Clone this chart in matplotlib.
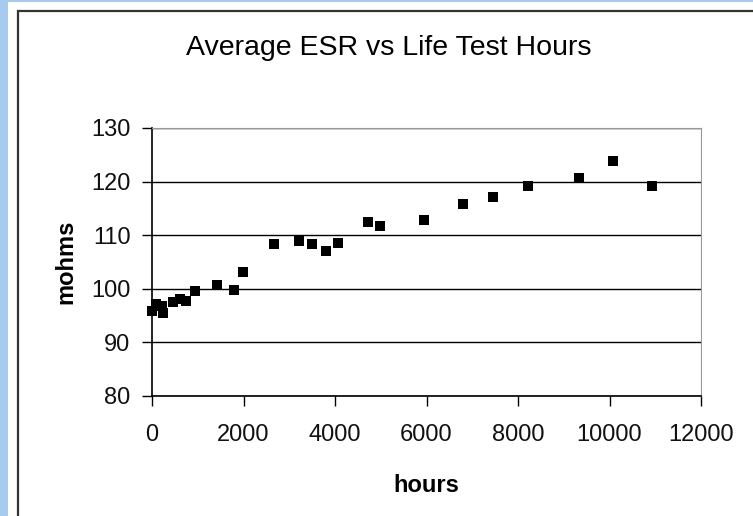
import matplotlib
matplotlib.use("Agg")
import matplotlib.pyplot as plt
from matplotlib.patches import Rectangle

# life test readings
hours = [0, 80, 210, 250, 450, 610, 740, 940, 1430, 1800, 1980,
         2670, 3210, 3500, 3800, 4060, 4730, 4980, 5940,
         6800, 7460, 8210, 9330, 10080, 10930]
esr_mohms = [95.8, 97.2, 96.7, 95.4, 97.5, 98.1, 97.8, 99.5, 100.7, 99.8, 103.2,
             108.4, 109.0, 108.4, 107.0, 108.6, 112.5, 111.7, 112.8,
             115.8, 117.1, 119.2, 120.7, 123.9, 119.2]

x_ticks = [0, 2000, 4000, 6000, 8000, 10000, 12000]
y_ticks = [80, 90, 100, 110, 120, 130]

W, H = 753, 516
fig = plt.figure(figsize=(W / 100, H / 100), dpi=100)
fig.patch.set_facecolor("white")

# light blue page strip and the dark chart frame
fig.patches.append(Rectangle((0, 0), 8 / W, 1, transform=fig.transFigure,
                             facecolor="#a6caf0", edgecolor="none", zorder=0))
fig.patches.append(Rectangle((0, 1 - 2 / H), 1, 2 / H, transform=fig.transFigure,
                             facecolor="#a6caf0", edgecolor="none", zorder=0))
fig.patches.append(Rectangle((18 / W, -0.1), 1.2, 1 - 11 / H + 0.1,
                             transform=fig.transFigure, facecolor="none",
                             edgecolor="#333333", linewidth=1.6, zorder=1))

ax = fig.add_axes([152 / W, (H - 396) / H, 549 / W, 268 / H])
ax.scatter(hours, esr_mohms, marker="s", s=46, color="black", zorder=3,
           linewidths=0, clip_on=False)

ax.set_xlim(0, 12000)
ax.set_ylim(80, 130)
ax.set_xticks(x_ticks)
ax.set_yticks(y_ticks)
ax.yaxis.grid(True, color="black", linewidth=1)
ax.set_axisbelow(True)

for side in ["top", "right"]:
    ax.spines[side].set_color("#999999")
for side in ["left", "bottom"]:
    ax.spines[side].set_color("black")
    ax.spines[side].set_linewidth(1.2)

ax.tick_params(direction="out", length=7.5, width=1, color="black",
               labelsize=17)
ax.tick_params(axis="x", pad=13)
ax.tick_params(axis="y", pad=8)
for lbl in ax.get_xticklabels() + ax.get_yticklabels():
    lbl.set_family("Liberation Sans")
    lbl.set_color("#111111")

ax.set_xlabel("hours", fontsize=17, fontweight="bold", family="Liberation Sans")
ax.set_ylabel("mohms", fontsize=17, fontweight="bold", family="Liberation Sans")
ax.xaxis.label.set_va("center")
ax.yaxis.label.set_va("center")
ax.xaxis.set_label_coords(0.5, (396 - 486) / 268)
ax.yaxis.set_label_coords((66 - 152) / 549, 0.5)

fig.text(389 / W, 1 - 48 / H, "Average ESR vs Life Test Hours",
         ha="center", va="center", fontsize=20.5, family="Liberation Sans")

fig.savefig("out.png", dpi=100)
